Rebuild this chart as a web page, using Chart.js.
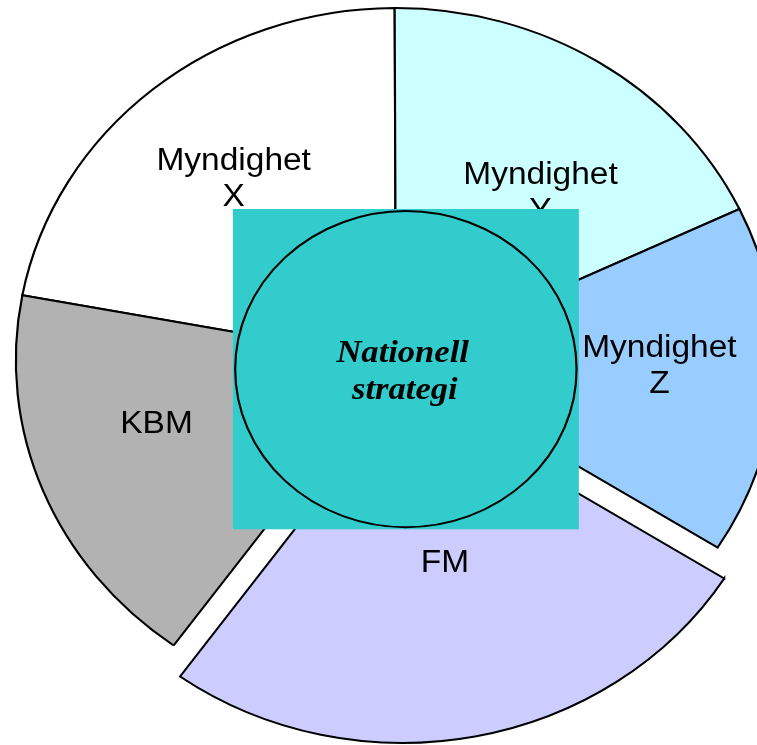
<!DOCTYPE html>
<html>
<head>
<meta charset="utf-8">
<title>Nationell strategi</title>
<script src="https://cdn.jsdelivr.net/npm/chart.js@4.4.1/dist/chart.umd.min.js"></script>
<style>
  html, body { margin: 0; padding: 0; background: #fff; overflow: hidden; }
  #wrap { width: 757px; height: 745px; }
</style>
</head>
<body>
<div id="wrap"><canvas id="myndigheter"></canvas></div>
<script>
// slices, clockwise from the top left one
var categories = ['Myndighet X', 'Myndighet Y', 'Myndighet Z', 'FM', 'KBM'];
var shares = [22, 18, 16, 26, 18];
var exploded = [0, 0, 0, 1, 0];
var centreText = ['Nationell', 'strategi'];

var sliceColours = ['#FFFFFF', '#CCFFFF', '#99CCFF', '#CCCCFF', '#B2B2B2'];

// the original picture is a bit wider than tall
var SX = 1.08;
// where each label sits: turn from the slice middle (deg) and part of the radius
var labelTurn = [0, 6.5, -2, -1.8, 5.6];
var labelDist = [0.667, 0.608, 0.693, 0.504, 0.656];

var stretchAndDecorate = {
	id: 'stretchAndDecorate',
	beforeDatasetsDraw: function (chart) {
		var ctx = chart.ctx;
		var a = chart.getDatasetMeta(0).data[0];
		ctx.save();
		ctx.translate(a.x, 0);
		ctx.scale(SX, 1);
		ctx.translate(-a.x, 0);
	},
	afterDatasetsDraw: function (chart) {
		var ctx = chart.ctx;
		var arcs = chart.getDatasetMeta(0).data;

		//slice labels
		ctx.fillStyle = '#000';
		ctx.textAlign = 'center';
		ctx.textBaseline = 'middle';
		ctx.font = '31px "Liberation Sans", Arial, sans-serif';
		arcs.forEach(function (arc, i) {
			var mid = (arc.startAngle + arc.endAngle) / 2;
			var push = (arc.options.offset || 0) / 4;
			var ang = mid + labelTurn[i] * Math.PI / 180;
			var d = labelDist[i] * arc.outerRadius;
			var x = arc.x + Math.cos(mid) * push + Math.cos(ang) * d;
			var y = arc.y + Math.sin(mid) * push + Math.sin(ang) * d;
			var lines = categories[i].split(' ');
			lines.forEach(function (t, k) {
				ctx.fillText(t, x, y + (k - (lines.length - 1) / 2) * 36);
			});
		});

		//centre box with the circle
		var a = arcs[0], R = a.outerRadius;
		var cx = a.x + 0.026 * R, cy = a.y + 0.026 * R, half = 0.455 * R;
		ctx.fillStyle = '#33CCCC';
		ctx.fillRect(cx - half, cy - half, half * 2, half * 2);
		ctx.beginPath();
		ctx.arc(cx, cy, 0.449 * R, 0, Math.PI * 2);
		ctx.lineWidth = 2;
		ctx.strokeStyle = '#000';
		ctx.stroke();

		ctx.fillStyle = '#000';
		ctx.textBaseline = 'alphabetic';
		ctx.font = 'italic bold 32px "Liberation Serif", "Times New Roman", serif';
		ctx.fillText(centreText[0], cx - 3, cy - 7);
		ctx.fillText(centreText[1], cx - 1, cy + 30);

		ctx.restore();
	}
};

new Chart('myndigheter', {
	type: 'pie',
	data: {
		labels: categories,
		datasets: [{
			data: shares,
			backgroundColor: sliceColours,
			borderColor: '#000',
			borderWidth: 2,
			borderJoinStyle: 'miter',
			offset: exploded.map(function (e) { return e * 126; }),
			clip: false
		}]
	},
	plugins: [stretchAndDecorate],
	options: {
		responsive: true,
		maintainAspectRatio: false,
		animation: false,
		events: [],
		rotation: -79.4,
		radius: 352,
		layout: { padding: { left: 35, right: 0, top: 0, bottom: 25 } },
		plugins: {
			legend: { display: false },
			tooltip: { enabled: false }
		}
	}
});
</script>
</body>
</html>
